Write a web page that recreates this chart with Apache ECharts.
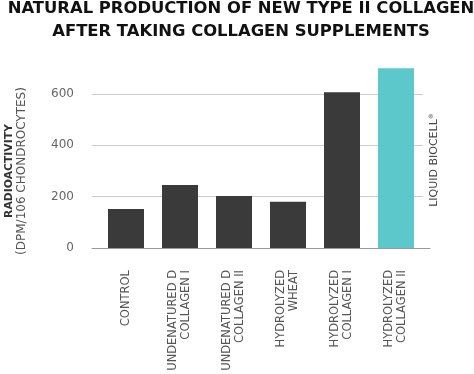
<!DOCTYPE html>
<html><head><meta charset="utf-8">
<script src="https://cdn.jsdelivr.net/npm/echarts@6/dist/echarts.min.js"></script>
<style>html,body{margin:0;padding:0;background:#fff}#c{width:474px;height:374px}</style>
</head><body><div id="c"></div>
<script>
const categories = ['CONTROL', 'UNDENATURED D\nCOLLAGEN I', 'UNDENATURED D\nCOLLAGEN II', 'HYDROLYZED\nWHEAT', 'HYDROLYZED\nCOLLAGEN I', 'HYDROLYZED\nCOLLAGEN II'];
const values = [152, 245, 203, 180, 607, 700];
const highlight = [false, false, false, false, false, true];
const yTicks = [0, 200, 400, 600];

const FONT = 'DejaVu Sans';
const chart = echarts.init(document.getElementById('c'));
const gTop = 94, gBottom = 374 - 248;
chart.setOption({
  animation: false,
  title: {
    text: 'NATURAL PRODUCTION OF NEW TYPE II COLLAGEN\nAFTER TAKING COLLAGEN SUPPLEMENTS',
    left: 241, textAlign: 'center', top: -3, padding: 0,
    textStyle: {fontFamily: FONT, fontWeight: 'bold', fontSize: 16.4, lineHeight: 23.3, color: '#111'}
  },
  grid: [
    {left: 92, right: 474 - 423, top: gTop, bottom: gBottom, outerBoundsMode: 'none', containLabel: false},
    {left: 92, right: 474 - 430, top: gTop, bottom: gBottom, outerBoundsMode: 'none', containLabel: false},
    {left: 99, right: 474 - 423, top: gTop, bottom: gBottom, outerBoundsMode: 'none', containLabel: false}
  ],
  xAxis: [
    {gridIndex: 0, type: 'category', data: categories, show: false},
    {gridIndex: 1, type: 'category', data: categories, axisLine: {show: true, lineStyle: {color: '#999', width: 1}}, axisTick: {show: false}, axisLabel: {show: false}},
    {gridIndex: 2, type: 'category', data: categories, axisLine: {show: false}, axisTick: {show: false},
      axisLabel: {rotate: 90, margin: 22, fontFamily: FONT, fontSize: 11.5, lineHeight: 13, color: '#555', align: 'right', interval: 0}}
  ],
  yAxis: [
    {gridIndex: 0, type: 'value', min: yTicks[0], max: yTicks[yTicks.length - 1], interval: 200,
      axisLine: {show: false}, axisTick: {show: false},
      splitLine: {lineStyle: {color: '#ccc', width: 1}},
      axisLabel: {margin: 18, fontFamily: FONT, fontSize: 12, color: '#666'},
      name: '{a|RADIOACTIVITY}\n{b|(DPM/106 CHONDROCYTES)}',
      nameLocation: 'middle', nameRotate: 90, nameGap: 64,
      nameTextStyle: {lineHeight: 12.5, rich: {
        a: {fontFamily: FONT, fontWeight: 'bold', fontSize: 10.8, color: '#333', lineHeight: 12.5},
        b: {fontFamily: FONT, fontSize: 12, color: '#555', lineHeight: 12.5}
      }}
    },
    {gridIndex: 1, type: 'value', min: 0, max: 600, show: false},
    {gridIndex: 2, type: 'value', min: 0, max: 600, show: false}
  ],
  series: [{
    type: 'bar', xAxisIndex: 2, yAxisIndex: 2, clip: false, barWidth: 36,
    data: values.map((v, i) => ({value: v, itemStyle: {color: highlight[i] ? '#5cc8cc' : '#3a3a3a'}}))
  }],
  graphic: [{
    type: 'text', x: 434, y: 160, rotation: Math.PI / 2,
    style: {text: '{a|LIQUID BIOCELL}{r|®}', align: 'center', verticalAlign: 'middle',
      rich: {a: {fontFamily: FONT, fontSize: 11, fill: '#444'}, r: {fontFamily: FONT, fontSize: 6, fill: '#444', verticalAlign: 'top', padding: [0,0,6,0]}}}
  }]
});
</script></body></html>
